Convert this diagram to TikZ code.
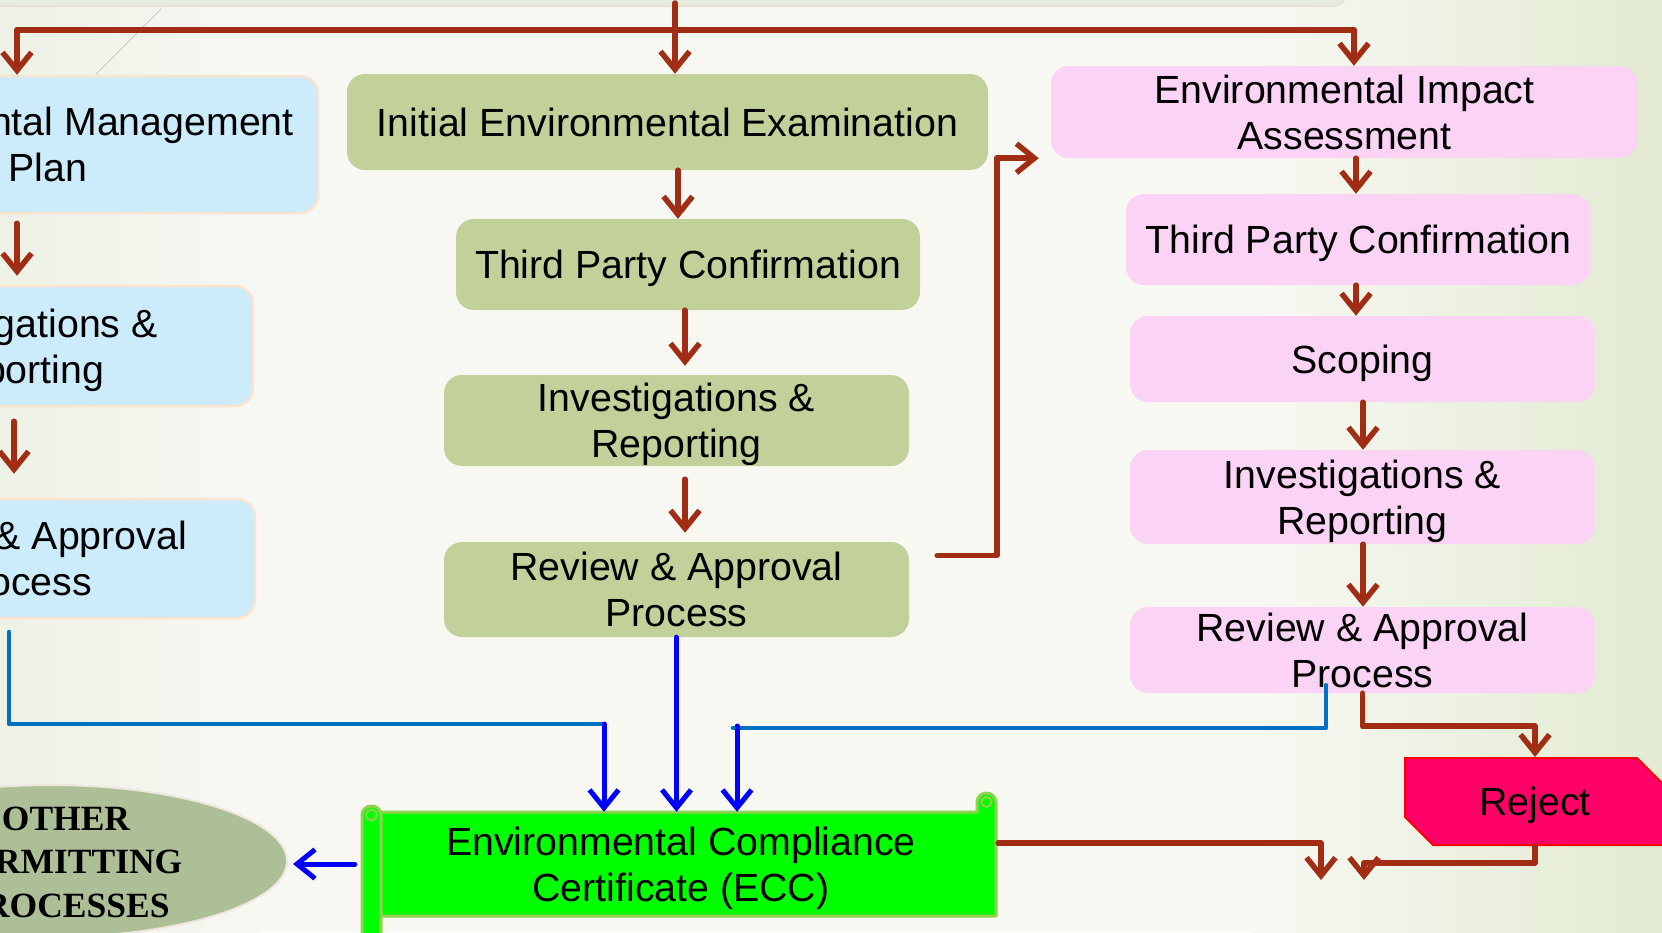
\documentclass[tikz,border=0pt]{standalone}
\usepackage{fontspec}
\setmainfont{Liberation Sans}
\newfontfamily\serifbold{Liberation Serif}
\usetikzlibrary{arrows.meta,shapes.geometric,shapes.misc,calc}
\definecolor{rline}{HTML}{A02D14}
\definecolor{bpure}{HTML}{0000FF}
\definecolor{bmid}{HTML}{0070C0}
\definecolor{gfill}{HTML}{C2D19A}
\definecolor{pfill}{HTML}{FBD3F5}
\definecolor{lbfill}{HTML}{CCEBFB}
\definecolor{lbborder}{HTML}{FBE3CF}
\definecolor{eccfill}{HTML}{00FF00}
\definecolor{eccborder}{HTML}{92D050}
\definecolor{efill}{HTML}{ADBF96}
\definecolor{eborder}{HTML}{EFE7DD}
\definecolor{rejfill}{HTML}{FF0066}
\definecolor{rejborder}{HTML}{FF0000}
\definecolor{bgM}{HTML}{F8F8F3}
\definecolor{bgL}{HTML}{EEF1E6}
\definecolor{bgR}{HTML}{E2EBD1}
\definecolor{topfill}{HTML}{E8EBDF}
\definecolor{topborder}{HTML}{E5E0D2}
\newcommand{\bxfont}{\fontsize{39.3pt}{45.6pt}\selectfont}
\begin{document}
\begin{tikzpicture}[x=1pt,y=-1pt,
  lbl/.style={inner sep=0pt, align=center, font=\bxfont, text depth=0pt},
  bx/.style={lbl, rounded corners=18pt},
  gbox/.style={bx, fill=gfill},
  pbox/.style={bx, fill=pfill},
  lbbox/.style={bx, fill=lbfill, draw=lbborder, line width=2.5pt},
  redln/.style={draw=rline, line width=5.5pt, line cap=round, line join=round},
  redarr/.style={redln, -{Straight Barb[length=18pt,width=29pt]}},
  bln/.style={draw=bmid, line width=4.5pt, line cap=round, line join=round},
  barr/.style={draw=bpure, line width=5pt, line cap=round, -{Straight Barb[length=18pt,width=29pt]}},
]
\useasboundingbox (0,0) rectangle (1662,932);
\clip (0,0) rectangle (1662,932);
% background
\fill[bgM] (0,0) rectangle (1662,932);
\shade[left color=bgL, right color=bgM] (0,0) rectangle (260,932);
\shade[left color=bgM, right color=bgR] (1250,0) rectangle (1662,932);
\draw[fill=topfill, draw=topborder, line width=1.5pt, rounded corners=14pt] (-30,-40) rectangle (1347,6);
\draw[black!22, line width=0.8pt] (161,9) -- (96,74);

% left column (partly outside the picture)
\node[lbbox, minimum width=540pt, minimum height=137pt] (emp) at (48,144.5) {Environmental Management\\Plan};
\node[lbbox, minimum width=468pt, minimum height=120pt] (linv) at (19,346) {Investigations \&\\Reporting};
\node[lbbox, minimum width=468pt, minimum height=119pt] (lrev) at (21,558.5) {Review \& Approval\\Process};

% middle column
\node[gbox, minimum width=641pt, minimum height=96pt] (iee) at (667.5,122) {Initial Environmental Examination};
\node[gbox, minimum width=464pt, minimum height=91pt] (mtpc) at (688,264.5) {Third Party Confirmation};
\node[gbox, minimum width=465pt, minimum height=91pt] (minv) at (676.5,420.5) {Investigations \&\\Reporting};
\node[gbox, minimum width=465pt, minimum height=95pt] (mrev) at (676.5,589.5) {Review \& Approval\\Process};

% right column
\node[pbox, minimum width=587pt, minimum height=92pt] (eia) at (1344.5,112) {Environmental Impact\\Assessment};
\node[pbox, minimum width=465pt, minimum height=91pt] (rtpc) at (1358.5,239.5) {Third Party Confirmation};
\node[pbox, minimum width=465pt, minimum height=86pt] (scop) at (1362.5,359) {Scoping};
\node[pbox, minimum width=465pt, minimum height=94pt] (rinv) at (1362.5,497) {Investigations \&\\Reporting};
\node[pbox, minimum width=465pt, minimum height=86pt] (rrev) at (1362.5,650) {Review \& Approval\\Process};

% reject
\node[lbl, chamfered rectangle, chamfered rectangle corners={north east,south west},
      chamfered rectangle xsep=14pt, chamfered rectangle ysep=14pt,
      fill=rejfill, draw=rejborder, line width=2pt,
      minimum width=260pt, minimum height=87pt] (reject) at (1535,801.5) {Reject};

% other permitting processes
\node[ellipse, fill=efill, draw=eborder, line width=2pt, inner sep=0pt,
      minimum width=474pt, minimum height=152pt] (other) at (50,861) {};
\node[inner sep=0pt, align=center, text depth=0pt,
      font=\serifbold\bfseries\fontsize{35.5pt}{43.5pt}\selectfont] (othertxt) at (66,862) {OTHER\\PERMITTING\\PROCESSES};

% ECC scroll
\filldraw[fill=eccfill, draw=eccborder, line width=3pt, line join=round]
  (372,812) -- (977,812) -- (977,802.5) .. controls (977,790) and (996,790) .. (996,802.5)
  -- (996,916) -- (372,916) -- cycle;
\filldraw[fill=eccfill, draw=eccborder, line width=3pt, rounded corners=9pt] (362,806) rectangle (381,950);
\draw[eccborder, line width=2pt] (371.5,815) circle[radius=5.5];
\draw[eccborder, line width=2pt] (986.5,802) circle[radius=5];
\node[lbl, minimum width=634pt, minimum height=104pt] (ecc) at (681,864) {Environmental Compliance\\Certificate (ECC)};

% top distribution
\coordinate (src) at (675,3);
\coordinate (tl) at (17,30);
\coordinate (tr) at (1354,30);
\draw[redln] (tl) -- (tr);
\draw[redarr] (tl) -- (tl |- emp.north);
\draw[redarr] (src) -- (src |- iee.north);
\draw[redarr] (tr) -- (tr |- eia.north);

% left column arrows
\coordinate (lx) at (17,0);
\coordinate (lx2) at (14,0);
\draw[redarr, shorten <=9pt, shorten >=9pt] (emp.south -| lx) -- (linv.north -| lx);
\draw[redarr, shorten <=14pt, shorten >=24pt] (linv.south -| lx2) -- (lrev.north -| lx2);

% middle column arrows
\coordinate (mx) at (678,0);
\coordinate (mx2) at (685,0);
\draw[redarr] (iee.south -| mx) -- (mtpc.north -| mx);
\draw[redarr, shorten >=9pt] (mtpc.south -| mx2) -- (minv.north -| mx2);
\draw[redarr, shorten <=13pt, shorten >=9pt] (minv.south -| mx2) -- (mrev.north -| mx2);

% right column arrows
\coordinate (rx) at (1356,0);
\coordinate (rx2) at (1363,0);
\draw[redarr] (eia.south -| rx) -- (rtpc.north -| rx);
\draw[redarr] (rtpc.south -| rx) -- (scop.north -| rx);
\draw[redarr] (scop.south -| rx2) -- (rinv.north -| rx2);
\draw[redarr] (rinv.south -| rx2) -- (rrev.north -| rx2);

% middle review -> EIA
\draw[redarr] ([xshift=28pt,yshift=34pt]mrev.east) -| ([xshift=-54pt]eia.south west) -- ([xshift=-12pt]eia.south west);

% review -> reject
\draw[redarr] (rrev.south) -- ++(0,33) -| (reject.north);

% bottom red arrows
\coordinate (endA) at (1321,880);
\coordinate (endB) at (1364,880);
\draw[redarr] ([yshift=21pt]ecc.east) -| (endA);
\draw[redarr] (reject.south) |- ([yshift=17pt]endB) -- (endB);

% blue connectors
\coordinate (lb) at (9,632);
\coordinate (lbc) at (604,724);
\draw[bln] (lb) |- (lbc);
\draw[barr] (lbc) -- (lbc |- ecc.north);
\draw[barr] (mrev.south) -- (mrev.south |- ecc.north);
\coordinate (rb) at (1326,0);
\coordinate (rbc) at (733,728);
\coordinate (rbd) at (737,726);
\draw[bln] ([yshift=8pt]rrev.south -| rb) |- (rbc);
\draw[barr] (rbd) -- (rbd |- ecc.north);
\draw[barr, shorten <=9pt, shorten >=5pt] (ecc.west) -- (ecc.west -| other.east);
\end{tikzpicture}
\end{document}
